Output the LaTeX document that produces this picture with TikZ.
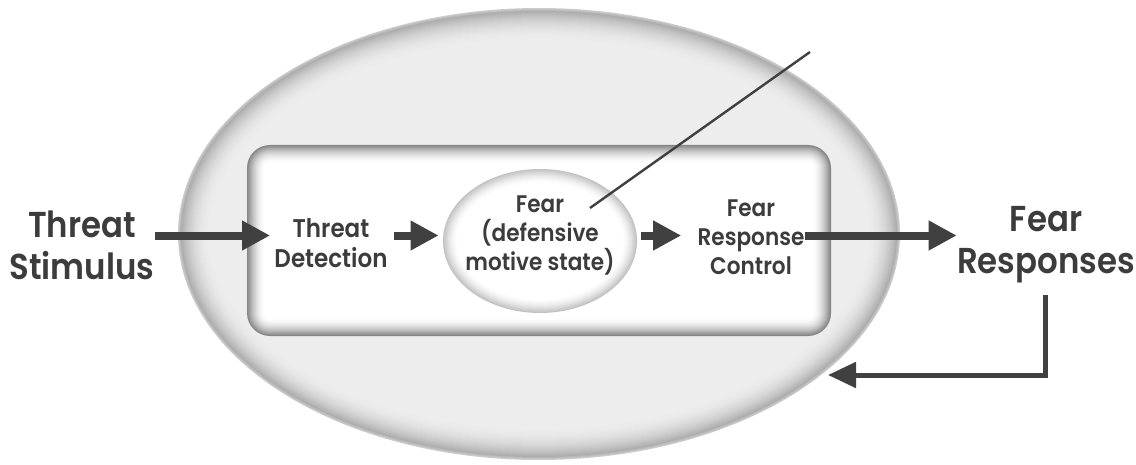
\documentclass[tikz,border=0pt]{standalone}
\usepackage{fontspec}
\setmainfont{Poppins}[FakeStretch=0.9,BoldFont={Poppins SemiBold}]
\usetikzlibrary{arrows.meta,calc,shapes.geometric}
\definecolor{ink}{HTML}{3C3C3C}
\definecolor{arr}{HTML}{404040}
\tikzset{
  bigtxt/.style={align=center,inner sep=0pt,text=ink,font=\fontsize{18}{21}\selectfont\bfseries},
  smalltxt/.style={align=center,inner sep=0pt,text=ink,font=\fontsize{12}{14.5}\selectfont\bfseries},
  bigarrow/.style={line width=4pt,draw=arr,-{Triangle[length=14pt,width=14pt]}},
  fbarrow/.style={line width=2.5pt,draw=arr,-{Triangle[length=14pt,width=12.5pt]}},
  pointer/.style={line width=1.2pt,draw=arr},
}
\begin{document}
\begin{tikzpicture}[x=0.5pt,y=-0.5pt]
\useasboundingbox (0,0) rectangle (1136,465);
\fill[white] (0,0) rectangle (1136,465);
% outer ellipse with soft rim
\node[ellipse,minimum width=361pt,minimum height=226pt,inner sep=0pt] (outer) at (539,234) {};
\foreach \i in {0,...,34}{
  \pgfmathsetmacro\p{\i<3 ? 20+4*\i : 7+25*(1-(\i-3)/31)^2.2}
  \fill[black!\p] (539,234) ellipse [x radius={361-\i}, y radius={226-\i}];
}
% inner rounded rectangle with inset shading
\node[rectangle,minimum width=292pt,minimum height=95.5pt,inner sep=0pt] (box) at (539,240.5) {};
\foreach \i in {0,...,18}{
  \pgfmathsetmacro\p{48*(1-\i/18)^1.8}
  \pgfmathsetmacro\r{max(23-\i,2)/2}
  \fill[black!\p,rounded corners=\r pt] (247+\i,145+\i) rectangle (831-\i,336-\i);
}
% fear ellipse
\node[ellipse,minimum width=97pt,minimum height=72pt,inner sep=0pt] (fear) at (540,241) {};
\foreach \i in {0,...,14}{
  \pgfmathsetmacro\p{24*(1-\i/14)^1.6}
  \fill[black!\p] (540,241) ellipse [x radius={97-\i}, y radius={72-\i}];
}
% texts
\node[bigtxt] (ts) at (82,245) {Threat\\Stimulus};
\node[smalltxt,font=\fontsize{12.8}{15}\selectfont\bfseries] (td) at (331,243) {Threat\\Detection};
\node[smalltxt] (fearlbl) at (540,235) {Fear\\(defensive\\motive state)};
\node[smalltxt] (frc) at (751,237) {Fear\\Response\\Control};
\node[bigtxt] (fr) at (1046,245) {Fear\\Responses};
% arrows
\coordinate (row) at (0,235.5);
\draw[bigarrow] (ts.east |- row) -- ([xshift=-2]td.west |- row);
\draw[bigarrow] ([xshift=3]td.east |- row) -- ([xshift=-2]fear.west |- row);
\draw[bigarrow] ([xshift=2]fear.east |- row) -- ([xshift=-8]frc.west |- row);
\draw[bigarrow] (frc.east |- row) -- (fr.west |- row);
\coordinate (fbtop) at (1045,295);
\coordinate (fbend) at (828,375);
\draw[fbarrow] (fbtop) |- (fbend);
\coordinate (pstart) at (590,208);
\coordinate (pend) at (810,52);
\draw[pointer] (pstart) -- (pend);
\end{tikzpicture}
\end{document}
